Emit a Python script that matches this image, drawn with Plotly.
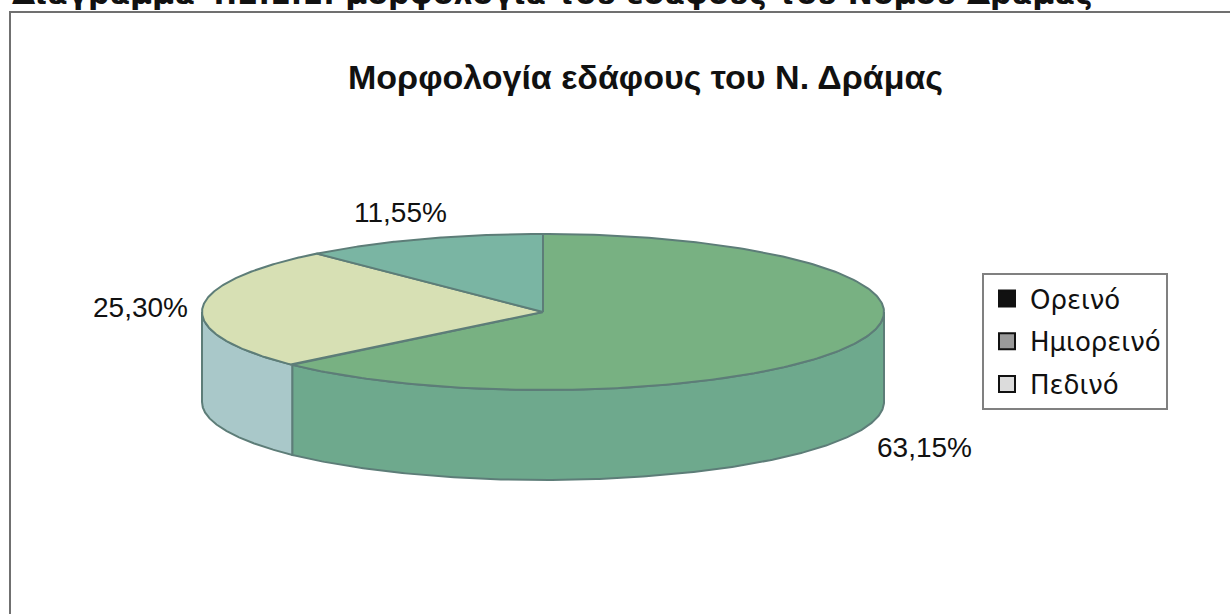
import numpy as np
import plotly.graph_objects as go

# ---------------- data ----------------
categories = ["Ορεινό", "Ημιορεινό", "Πεδινό"]
shares = [63.15, 25.30, 11.55]          # percent
chart_title = "Μορφολογία εδάφους του Ν. Δράμας"
page_heading = "Διάγραμμα 4.2.1.1: μορφολογία του εδάφους του Νομού Δράμας"

# ---------------- style ----------------
top_colors = ["#78b182", "#d7e0b4", "#7ab5a3"]
side_colors = ["#6ea98d", "#a9c8c9", "#6fa89a"]
legend_fill = ["#111111", "#9a9a9a", "#dcdcdc"]
edge_color = "#5d7d78"
W, H = 1230, 614
CX, CY, RX, RY, DEPTH = 543, 312, 341, 78, 90
label_offsets = [(20, 14), (-12, -1), (-21, -27)]
label_anchor = ["left", "right", "center"]

fig = go.Figure()

total = sum(shares)
start = 90.0
slices = []
for cat, v in zip(categories, shares):
    sweep = 360.0 * v / total
    slices.append((start, start - sweep))   # clockwise (decreasing angle)
    start -= sweep


def arc(t0, t1, n=240, dy=0.0):
    t = np.radians(np.linspace(t0, t1, n))
    return CX + RX * np.cos(t), CY - RY * np.sin(t) + dy


# sides (front part only, angles in [-180, 0])
for i, (t0, t1) in enumerate(slices):
    a, b = min(t0, 0.0), max(t1, -180.0)
    if a <= b:
        continue
    xt, yt = arc(a, b)
    xb, yb = arc(b, a, dy=DEPTH)
    fig.add_trace(go.Scatter(
        x=np.concatenate([xt, xb, xt[:1]]), y=np.concatenate([yt, yb, yt[:1]]),
        mode="lines", fill="toself", fillcolor=side_colors[i],
        line=dict(color=edge_color, width=2), showlegend=False, hoverinfo="skip"))

# tops
for i, (t0, t1) in enumerate(slices):
    xa, ya = arc(t0, t1)
    fig.add_trace(go.Scatter(
        x=np.concatenate([[CX], xa, [CX]]), y=np.concatenate([[CY], ya, [CY]]),
        mode="lines", fill="toself", fillcolor=top_colors[i],
        line=dict(color=edge_color, width=2), showlegend=False,
        hoverinfo="text", text=f"{categories[i]}: {shares[i]:.2f}%"))

# legend entries
for i, cat in enumerate(categories):
    fig.add_trace(go.Scatter(
        x=[None], y=[None], mode="markers", name=cat, legendgroup=cat,
        marker=dict(symbol="square", size=16, color=legend_fill[i],
                    line=dict(color="#111111", width=2))))

# data labels
annotations = []
for i, (t0, t1) in enumerate(slices):
    mid = np.radians((t0 + t1) / 2)
    px = CX + RX * np.cos(mid)
    py = CY - RY * np.sin(mid) + (DEPTH if np.sin(mid) < 0 else 0)
    dx, dy = label_offsets[i]
    annotations.append(dict(
        x=px + dx, y=py + dy, xref="x", yref="y", showarrow=False,
        text=f"{shares[i]:.2f}%".replace(".", ","), xanchor=label_anchor[i],
        yanchor="middle", font=dict(family="Liberation Sans, Arial", size=28, color="#111")))

annotations.append(dict(x=646 / W, y=1 - 77 / H, xref="paper", yref="paper", showarrow=False,
                        text=f"<b>{chart_title}</b>", xanchor="center", yanchor="middle",
                        font=dict(family="Liberation Sans, Arial", size=34, color="#111")))
annotations.append(dict(x=10 / W, y=1 + 6 / H, xref="paper", yref="paper", showarrow=False,
                        text=f"<b>{page_heading}</b>", xanchor="left", yanchor="middle",
                        font=dict(family="DejaVu Sans", size=30, color="#111")))

fig.update_layout(
    width=W, height=H, margin=dict(l=0, r=0, t=0, b=0),
    paper_bgcolor="white", plot_bgcolor="white",
    xaxis=dict(range=[0, W], visible=False, fixedrange=True),
    yaxis=dict(range=[H, 0], visible=False, fixedrange=True),
    showlegend=True,
    legend=dict(x=982 / W, y=1 - 273 / H, xanchor="left", yanchor="top",
                bordercolor="#808080", borderwidth=2, bgcolor="white",
                font=dict(family="DejaVu Sans", size=26, color="#111"),
                tracegroupgap=6, itemsizing="trace", itemwidth=36),
    annotations=annotations,
    shapes=[dict(type="rect", xref="x", yref="y", x0=10, y0=12, x1=W + 20, y1=H + 20,
                 line=dict(color="#707070", width=2), fillcolor="rgba(0,0,0,0)", layer="below")],
)

fig.write_html("out.html", config={"displayModeBar": False},
               post_script="document.body.style.margin='0';")
